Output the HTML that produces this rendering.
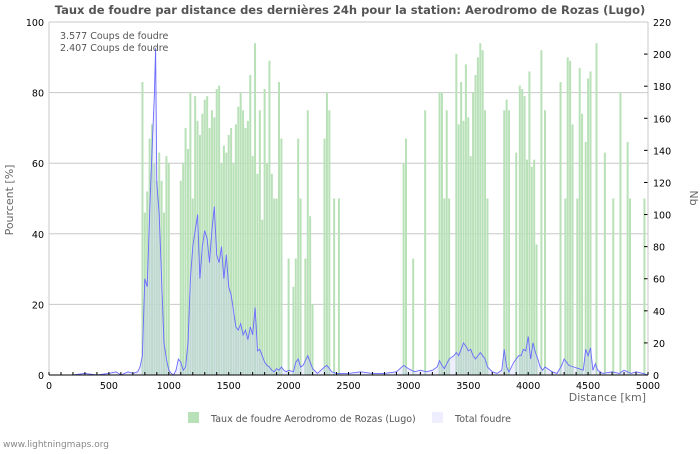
<!DOCTYPE html>
<html><head><meta charset="utf-8"><style>
body{margin:0;background:#fff;width:700px;height:450px;overflow:hidden;font-family:"DejaVu Sans","Liberation Sans",sans-serif}
svg text{font-family:"DejaVu Sans","Liberation Sans",sans-serif}
</style></head><body>
<svg id="c" width="700" height="450">
<text x="350" y="14" text-anchor="middle" font-size="11.5" font-weight="bold" fill="#555">Taux de foudre par distance des dernières 24h pour la station: Aerodromo de Rozas (Lugo)</text>
<g id="grid"></g>
<g id="bars"></g>
<g id="line"></g>
<g id="axes"></g>
<text x="60" y="39" font-size="9.5" fill="#555">3.577  Coups de foudre</text>
<text x="60" y="51" font-size="9.5" fill="#555">2.407  Coups de foudre</text>
<text x="646" y="401" text-anchor="end" font-size="11" fill="#666">Distance   [km]</text>
<text transform="translate(13,200) rotate(-90)" text-anchor="middle" font-size="11" fill="#666">Pourcent   [%]</text>
<text transform="translate(690,198) rotate(90)" text-anchor="middle" font-size="11" fill="#666">Nb</text>
<rect x="188" y="412" width="11" height="11" fill="#b9e1b8"/>
<text x="211" y="422" font-size="9.5" fill="#555">Taux de foudre Aerodromo de Rozas (Lugo)</text>
<rect x="432" y="412" width="11" height="11" fill="#eeeeff"/>
<text x="455" y="422" font-size="9.5" fill="#555">Total foudre</text>
<text x="3" y="447" font-size="9" fill="#888">www.lightningmaps.org</text>
</svg>
<script>
const barKm=[780,800,820,840,860,880,900,920,940,960,980,1000,1100,1120,1140,1160,1180,1200,1220,1240,1260,1280,1300,1320,1340,1360,1380,1400,1420,1440,1460,1480,1500,1520,1540,1560,1580,1600,1620,1640,1660,1680,1700,1720,1740,1760,1780,1800,1820,1840,1860,1880,1900,1920,1940,2000,2040,2060,2080,2100,2140,2160,2180,2200,2300,2320,2340,2380,2420,2960,2980,3040,3140,3260,3280,3300,3320,3340,3400,3420,3440,3460,3480,3500,3520,3540,3560,3580,3600,3620,3640,3660,3800,3820,3840,3900,3930,3950,3970,3990,4010,4030,4050,4070,4110,4140,4270,4310,4330,4350,4370,4410,4430,4450,4480,4500,4520,4570,4640,4710,4770,4830,4850,4970];
const barPct=[83,46,52,67,71,60,55,63,55,46,62,60,55,60,70,64,80,50,79,72,68,74,78,79,70,75,73,81,82,60,65,63,68,70,60,71,76,80,75,70,72,85,62,94,57,75,44,81,60,89,57,50,50,83,67,33,25,33,67,50,33,75,45,20,67,80,75,50,50,60,67,33,75,80,80,50,75,50,91,71,83,72,88,73,62,80,85,90,94,92,75,50,75,78,75,63,82,81,79,61,86,59,61,37,92,75,83,50,90,89,71,50,87,74,66,84,86,94,63,50,80,66,50,50,50];
const lineKm=[0,100,200,300,400,500,560,600,660,700,740,760,780,800,820,840,860,880,890,900,920,940,960,980,1000,1020,1040,1060,1080,1100,1120,1140,1160,1180,1200,1220,1240,1260,1280,1300,1320,1340,1360,1380,1400,1420,1440,1460,1480,1500,1520,1540,1560,1580,1600,1620,1640,1660,1680,1700,1720,1740,1760,1780,1800,1820,1840,1860,1880,1900,1920,1940,1960,1980,2000,2040,2060,2080,2100,2120,2140,2160,2180,2200,2240,2300,2320,2360,2400,2500,2600,2700,2800,2900,2960,3000,3050,3100,3150,3200,3240,3260,3280,3300,3340,3380,3400,3420,3440,3460,3480,3500,3520,3540,3560,3600,3620,3640,3660,3700,3740,3780,3800,3820,3840,3880,3900,3920,3940,3960,3980,4000,4020,4040,4060,4080,4100,4120,4140,4200,4240,4280,4300,4320,4340,4380,4420,4460,4480,4500,4520,4540,4560,4580,4620,4700,4760,4800,4860,4900,4960,5000];
const lineNb=[0,0,0,1,0,1,2,0,2,1,2,5,12,60,55,100,140,175,204,120,100,60,20,10,3,1,0,3,10,8,3,5,20,60,80,90,100,60,80,90,85,70,90,105,75,70,80,60,75,55,50,40,30,28,32,25,28,22,30,25,42,15,16,12,8,6,5,3,2,4,3,5,3,2,3,2,8,10,5,6,9,12,8,4,1,5,6,2,1,1,2,1,1,2,6,4,2,3,2,3,5,9,6,4,10,12,14,12,16,20,18,15,16,12,10,14,12,10,5,2,1,3,16,5,2,8,10,12,12,16,15,24,10,20,14,10,5,3,5,2,1,6,10,8,6,5,4,3,16,12,17,3,7,3,1,2,1,3,1,2,1,0];
const yTicks=[0,20,40,60,80,100];
const yRTicks=[0,20,40,60,80,100,120,140,160,180,200,220];
const xTicks=[0,500,1000,1500,2000,2500,3000,3500,4000,4500,5000];
const NS='http://www.w3.org/2000/svg';
const X0=49,X1=648,Y0=375,Y1=22;
const xs=d=>X0+d/5000*(X1-X0);
const yp=v=>Y0-v/100*(Y0-Y1);
const yn=v=>Y0-v/220*(Y0-Y1);
function mk(t,a,p){const e=document.createElementNS(NS,t);for(const k in a)e.setAttribute(k,a[k]);p.appendChild(e);return e;}
const grid=document.getElementById('grid'),bars=document.getElementById('bars'),line=document.getElementById('line'),axes=document.getElementById('axes');
yTicks.forEach(v=>{
  if(v>0){const g=mk('line',{x1:X0,x2:X1,y1:yp(v),y2:yp(v),stroke:'#c8c8c8','stroke-width':1},grid);
  
  }
  const t=mk('text',{x:X0-5,y:yp(v)+4,'text-anchor':'end','font-size':9.5,fill:'#000'},axes);t.textContent=v;
  
  
});
yRTicks.forEach(v=>{
  const t=mk('text',{x:X1+5,y:yn(v)+4,'text-anchor':'start','font-size':9.5,fill:'#000'},axes);t.textContent=v;
  
  
  mk('line',{x1:X1-4,x2:X1,y1:yn(v),y2:yn(v),stroke:'#000'},axes);
});
barKm.forEach((k,i)=>{
  const r=mk('rect',{x:xs(k)-1,y:yp(barPct[i]),width:2,height:Y0-yp(barPct[i]),fill:'#b9e1b8'},bars);
  
  
});
let d='M'+xs(lineKm[0])+','+yn(lineNb[0]);
lineKm.forEach((k,i)=>{d+=' L'+xs(k).toFixed(1)+','+yn(lineNb[i]).toFixed(1);});
const area=mk('path',{d:d+' L'+xs(lineKm[lineKm.length-1])+','+Y0+' L'+xs(lineKm[0])+','+Y0+' Z',fill:'rgba(200,200,255,0.3)'},line);


const pl=mk('path',{d:d,fill:'none',stroke:'#6a6aff','stroke-width':0.9},line);


mk('line',{x1:X0,x2:X1,y1:Y1,y2:Y1,stroke:'#c8c8c8'},axes);
mk('line',{x1:X0,x2:X1,y1:Y0,y2:Y0,stroke:'#000'},axes);
mk('line',{x1:X0,x2:X0,y1:Y0,y2:Y1,stroke:'#c8c8c8'},axes);
mk('line',{x1:X1,x2:X1,y1:Y0,y2:Y1,stroke:'#c8c8c8'},axes);
for(let k=0;k<=5000;k+=100){mk('line',{x1:xs(k),x2:xs(k),y1:Y0-3,y2:Y0,stroke:'#000'},axes);}
xTicks.forEach(v=>{
  const t=mk('text',{x:xs(v),y:Y0+14,'text-anchor':'middle','font-size':9.5,fill:'#000'},axes);t.textContent=v;
  
  
});
</script>
</body></html>
